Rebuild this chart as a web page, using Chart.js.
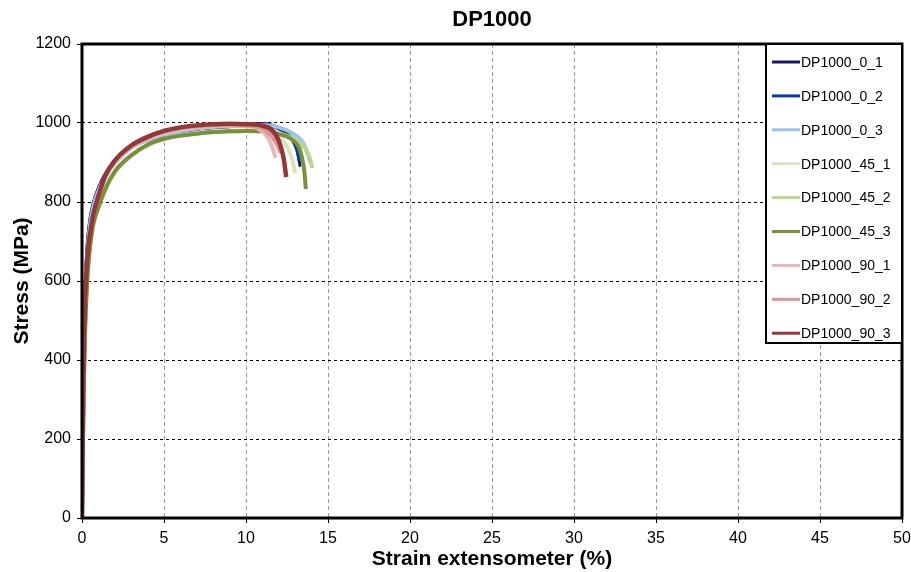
<!DOCTYPE html>
<html>
<head>
<meta charset="utf-8">
<title>DP1000</title>
<script src="https://cdn.jsdelivr.net/npm/chart.js@4.4.0/dist/chart.umd.min.js"></script>
<style>
  body { margin: 0; background: #fff; }
</style>
</head>
<body>
<canvas id="dpChart" width="911" height="572"></canvas>
<script>
// series names + colours (same order as the legend)
const seriesNames = ['DP1000_0_1', 'DP1000_0_2', 'DP1000_0_3', 'DP1000_45_1', 'DP1000_45_2', 'DP1000_45_3', 'DP1000_90_1', 'DP1000_90_2', 'DP1000_90_3'];
const seriesColors = ['#17186a', '#0b3aa6', '#9dc3e6', '#d7e4bd', '#bcd68f', '#76933c', '#e6b9b8', '#da9694', '#953735'];

// strain (%) / stress (MPa)
const strain_0_1 = [0, 0.05, 0.1, 0.2, 0.35, 0.5, 0.7, 1.0, 1.4, 2, 3, 4, 5, 6, 7, 8, 9, 10, 11, 11.5, 12, 12.6, 13.0, 13.2, 13.3];
const stress_0_1 = [0, 240, 410, 590, 705, 760, 798, 835, 870, 905, 940, 960, 972, 981, 987, 991, 994, 997, 999, 996, 987, 970, 948, 915, 889];
const strain_0_2 = [0, 0.05, 0.1, 0.2, 0.35, 0.5, 0.7, 1.0, 1.4, 2, 3, 4, 5, 6, 7, 8, 9, 10, 11, 12, 12.7, 13.0, 13.2, 13.25];
const stress_0_2 = [0, 225, 395, 575, 695, 752, 795, 832, 866, 902, 939, 958, 970, 979, 985, 989, 992, 995, 996, 986, 965, 945, 920, 905];
const strain_0_3 = [0, 0.05, 0.1, 0.2, 0.35, 0.5, 0.7, 1.0, 1.4, 2, 3, 4, 5, 6, 7, 8, 9, 10, 11, 12, 12.8, 13.4, 13.7, 13.9];
const stress_0_3 = [0, 200, 370, 550, 680, 745, 790, 828, 862, 898, 937, 957, 970, 979, 986, 990, 993, 995, 995, 989, 975, 955, 930, 901];
const strain_45_1 = [0, 0.05, 0.1, 0.2, 0.35, 0.5, 0.7, 1.0, 1.4, 2, 3, 4, 5, 6, 7, 8, 9, 10, 11, 11.8, 12.4, 12.8, 13.0];
const stress_45_1 = [0, 180, 330, 500, 630, 700, 750, 790, 834, 877, 918, 944, 959, 968, 974, 978, 980, 981, 979, 968, 948, 910, 873];
const strain_45_2 = [0, 0.05, 0.1, 0.2, 0.35, 0.5, 0.7, 1.0, 1.4, 2, 3, 4, 5, 6, 7, 8, 9, 10, 11, 12, 13, 13.6, 13.9, 14.05];
const stress_45_2 = [0, 175, 325, 495, 625, 695, 748, 788, 832, 876, 917, 944, 959, 968, 973, 977, 979, 980, 979, 974, 958, 935, 910, 886];
const strain_45_3 = [0, 0.05, 0.1, 0.2, 0.35, 0.5, 0.7, 1.0, 1.4, 2, 3, 4, 5, 6, 7, 8, 9, 10, 11, 12, 12.8, 13.3, 13.55, 13.65];
const stress_45_3 = [0, 170, 320, 490, 620, 690, 745, 785, 830, 877, 918, 945, 960, 968, 973, 977, 979, 980, 979, 972, 958, 930, 880, 833];
const strain_90_1 = [0, 0.05, 0.1, 0.2, 0.35, 0.5, 0.7, 1.0, 1.4, 2, 3, 4, 5, 6, 7, 8, 9, 10, 10.8, 11.3, 11.6, 11.8];
const stress_90_1 = [0, 210, 380, 560, 675, 722, 770, 812, 860, 900, 938, 960, 975, 984, 989, 992, 993, 992, 985, 965, 940, 912];
const strain_90_2 = [0, 0.05, 0.1, 0.2, 0.35, 0.5, 0.7, 1.0, 1.4, 2, 3, 4, 5, 6, 7, 8, 9, 10, 10.9, 11.5, 11.9, 12.1];
const stress_90_2 = [0, 215, 385, 560, 672, 720, 770, 813, 862, 903, 941, 963, 978, 987, 992, 995, 996, 994, 988, 970, 945, 925];
const strain_90_3 = [0, 0.05, 0.1, 0.2, 0.35, 0.5, 0.7, 1.0, 1.4, 2, 3, 4, 5, 6, 7, 8, 9, 10, 11, 11.6, 12.0, 12.3, 12.45];
const stress_90_3 = [0, 220, 390, 560, 670, 720, 770, 815, 865, 905, 943, 965, 980, 989, 994, 997, 998, 997, 993, 982, 955, 910, 863];

const xTicks = [0, 5, 10, 15, 20, 25, 30, 35, 40, 45, 50];
const yTicks = [0, 200, 400, 600, 800, 1000, 1200];

const strains = [strain_0_1, strain_0_2, strain_0_3, strain_45_1, strain_45_2, strain_45_3, strain_90_1, strain_90_2, strain_90_3];
const stresses = [stress_0_1, stress_0_2, stress_0_3, stress_45_1, stress_45_2, stress_45_3, stress_90_1, stress_90_2, stress_90_3];

const datasets = seriesNames.map((name, i) => ({
  label: name,
  data: strains[i].map((x, j) => ({ x: x, y: stresses[i][j] })),
  borderColor: seriesColors[i],
  backgroundColor: seriesColors[i],
  borderWidth: i === 8 ? 4.5 : (i === 0 ? 3 : 4),
  showLine: true,
  pointRadius: 0,
  cubicInterpolationMode: 'monotone',
  order: seriesNames.length - i, // later series on top, like excel
}));

// thick plot frame + boxed legend in the top right corner
const frameLegend = {
  id: 'frameLegend',
  afterDraw(chart) {
    const { ctx, chartArea } = chart;
    ctx.save();
    ctx.strokeStyle = '#000';
    ctx.lineWidth = 3;
    ctx.strokeRect(chartArea.left, chartArea.top, chartArea.right - chartArea.left, chartArea.bottom - chartArea.top);

    const boxW = 136, boxH = 299;
    const bx = chartArea.right - boxW, by = chartArea.top;
    ctx.fillStyle = '#fff';
    ctx.fillRect(bx, by, boxW, boxH);
    ctx.lineWidth = 2;
    ctx.strokeRect(bx, by, boxW, boxH);

    ctx.font = '14px "Liberation Sans", Arial, sans-serif';
    ctx.textBaseline = 'middle';
    ctx.textAlign = 'left';
    chart.data.datasets.forEach((ds, i) => {
      const y = by + 18 + i * 33.9;
      ctx.strokeStyle = ds.borderColor;
      ctx.lineWidth = 3;
      ctx.beginPath();
      ctx.moveTo(bx + 6, y);
      ctx.lineTo(bx + 34, y);
      ctx.stroke();
      ctx.fillStyle = '#000';
      ctx.fillText(ds.label, bx + 35, y + 1);
    });
    ctx.restore();
  }
};

const ctx = document.getElementById('dpChart');
new Chart(ctx, {
  type: 'scatter',
  data: { datasets: datasets },
  options: {
    responsive: false,
    animation: false,
    layout: { padding: { left: 0, right: 9, top: 0, bottom: 0 } },
    plugins: {
      legend: { display: false },
      tooltip: { enabled: false },
      title: {
        display: true,
        text: 'DP1000',
        fullSize: false,
        color: '#000',
        font: { family: '"Liberation Sans", Arial, sans-serif', size: 22, weight: 'bold' },
        padding: { top: 7, bottom: 10.6 },
      },
    },
    scales: {
      x: {
        type: 'linear',
        min: 0,
        max: 50,
        afterBuildTicks: scale => { scale.ticks = xTicks.map(v => ({ value: v })); },
        afterFit: scale => { scale.height = 54; scale.paddingRight = 0; },
        ticks: {
          color: '#000',
          padding: 6,
          font: { family: '"Liberation Sans", Arial, sans-serif', size: 16 },
          callback: v => String(v),
        },
        grid: { color: '#9a9a9a', tickColor: '#000', tickLength: 5, lineWidth: 1 },
        border: { display: false, dash: [4, 3] },
        title: {
          display: true,
          text: 'Strain extensometer (%)',
          color: '#000',
          font: { family: '"Liberation Sans", Arial, sans-serif', size: 21, weight: 'bold' },
          padding: { top: 0, bottom: 0 },
        },
      },
      y: {
        min: 0,
        max: 1200,
        afterBuildTicks: scale => { scale.ticks = yTicks.map(v => ({ value: v })); },
        afterFit: scale => { scale.width = 82; },
        ticks: {
          color: '#000',
          padding: 6,
          font: { family: '"Liberation Sans", Arial, sans-serif', size: 16 },
          callback: v => String(v),
        },
        grid: { color: '#000', tickColor: '#000', tickLength: 5, lineWidth: 1 },
        border: { display: false, dash: [3, 3] },
        title: {
          display: true,
          text: 'Stress (MPa)',
          color: '#000',
          font: { family: '"Liberation Sans", Arial, sans-serif', size: 21, weight: 'bold' },
          padding: { top: 10, bottom: 0 },
        },
      },
    },
  },
  plugins: [frameLegend],
});
</script>
</body>
</html>
